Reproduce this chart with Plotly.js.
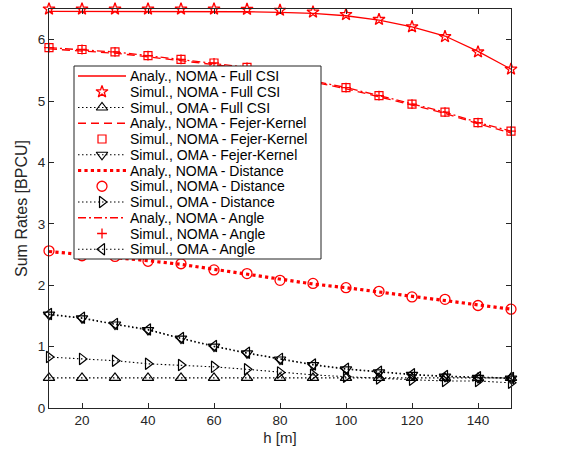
<!DOCTYPE html>
<html>
<head>
<meta charset="utf-8">
<script src="https://cdn.plot.ly/plotly-3.0.1.min.js"></script>
<style>html,body{margin:0;padding:0;background:#fff}#chart{width:572px;height:459px}</style>
</head>
<body>
<div id="chart"></div>
<script>
// ---- data ----
const h = [10,20,30,40,50,60,70,80,90,100,110,120,130,140,150];
const noma_full_analy = [6.46,6.46,6.46,6.46,6.46,6.46,6.455,6.445,6.43,6.39,6.32,6.21,6.06,5.81,5.52];
const noma_full_simul = [6.50,6.50,6.50,6.50,6.50,6.50,6.495,6.48,6.45,6.41,6.33,6.21,6.05,5.80,5.52];
const oma_full = [0.49,0.49,0.49,0.49,0.49,0.49,0.49,0.49,0.49,0.49,0.49,0.49,0.49,0.49,0.49];
const noma_fejer_analy = [5.85,5.82,5.78,5.72,5.66,5.60,5.53,5.42,5.31,5.20,5.07,4.93,4.80,4.63,4.48];
const noma_fejer_simul = [5.87,5.84,5.80,5.74,5.68,5.62,5.55,5.44,5.33,5.22,5.09,4.95,4.82,4.65,4.51];
const oma_fejer = [1.52,1.46,1.36,1.27,1.13,1.00,0.89,0.79,0.70,0.63,0.58,0.54,0.51,0.49,0.48];
const noma_dist_analy = [2.55,2.50,2.46,2.40,2.34,2.26,2.18,2.09,2.02,1.96,1.89,1.82,1.76,1.68,1.61];
const noma_dist_simul = [2.56,2.48,2.47,2.39,2.35,2.25,2.19,2.08,2.03,1.96,1.90,1.81,1.77,1.67,1.61];
const oma_dist = [0.83,0.80,0.77,0.72,0.70,0.67,0.63,0.58,0.54,0.51,0.48,0.46,0.44,0.44,0.41];
const noma_angle_analy = [5.87,5.84,5.80,5.74,5.68,5.62,5.55,5.44,5.33,5.22,5.09,4.95,4.82,4.65,4.51];
const noma_angle_simul = [5.87,5.84,5.80,5.74,5.68,5.62,5.55,5.44,5.33,5.22,5.09,4.95,4.82,4.65,4.51];
const oma_angle = [1.53,1.47,1.37,1.28,1.14,1.01,0.90,0.80,0.71,0.64,0.59,0.55,0.52,0.50,0.49];
const names = [
 'Analy., NOMA - Full CSI','Simul., NOMA - Full CSI','Simul., OMA - Full CSI',
 'Analy., NOMA - Fejer-Kernel','Simul., NOMA - Fejer-Kernel','Simul., OMA - Fejer-Kernel',
 'Analy., NOMA - Distance','Simul., NOMA - Distance','Simul., OMA - Distance',
 'Analy., NOMA - Angle','Simul., NOMA - Angle','Simul., OMA - Angle'];
const xTicks = [20,40,60,80,100,120,140];
const yTicks = [0,1,2,3,4,5,6];

// ---- styles ----
const red = '#ff0000', blk = '#000000';
const omaDash = '1.5px,2.5px';
const styles = [
  {line:{color:red, width:1.3, dash:'solid'}},
  {marker:{symbol:'star-open', size:9, color:red, line:{width:1.3}}},
  {line:{color:blk, width:1.1, dash:omaDash}, marker:{symbol:'triangle-up-open', size:10, color:blk, line:{width:1.2}}},
  {line:{color:red, width:1.3, dash:'8px,5px'}},
  {marker:{symbol:'square-open', size:8, color:red, line:{width:1.2}}},
  {line:{color:blk, width:1.1, dash:omaDash}, marker:{symbol:'triangle-down-open', size:10, color:blk, line:{width:1.2}}},
  {line:{color:red, width:3.2, dash:'dot'}},
  {marker:{symbol:'circle-open', size:10, color:red, line:{width:1.3}}},
  {line:{color:blk, width:1.1, dash:omaDash}, marker:{symbol:'triangle-right-open', size:10, color:blk, line:{width:1.2}}},
  {line:{color:red, width:1.3, dash:'8px,3px,2px,3px'}},
  {marker:{symbol:'cross-thin-open', size:7, color:red, line:{width:1.3}}},
  {line:{color:blk, width:1.1, dash:omaDash}, marker:{symbol:'triangle-left-open', size:10, color:blk, line:{width:1.2}}}
];
const series = [noma_full_analy, noma_full_simul, oma_full, noma_fejer_analy, noma_fejer_simul, oma_fejer,
  noma_dist_analy, noma_dist_simul, oma_dist, noma_angle_analy, noma_angle_simul, oma_angle];

function modeOf(s){ return s.line && s.marker ? 'lines+markers' : (s.line ? 'lines' : 'markers'); }

const traces = series.map((y, i) => Object.assign({
  x: h, y: y, name: names[i], type: 'scatter', mode: modeOf(styles[i]),
  showlegend: false, cliponaxis: false, xaxis: 'x', yaxis: 'y'
}, styles[i]));

// ---- custom legend drawn on an overlay axis measured in pixels ----
const L = 49, R = 61, T = 9, B = 51, W = 572, H = 459;
const box = {x0: 74, x1: 321, y0: 66, y1: 259};
const rowTop = 76, rowStep = 15.75, sampleX0 = 78, sampleX1 = 126, textX = 128;
traces.push({x:[box.x0, box.x1, box.x1, box.x0, box.x0], y:[box.y0, box.y0, box.y1, box.y1, box.y0],
  type:'scatter', mode:'lines', fill:'toself', fillcolor:'#ffffff',
  line:{color:'#222', width:1}, showlegend:false, xaxis:'x2', yaxis:'y2', hoverinfo:'skip'});
const annotations = [];
styles.forEach((s, i) => {
  const ry = rowTop + rowStep * i;
  if (s.line) traces.push({x:[sampleX0, sampleX1], y:[ry, ry], type:'scatter', mode:'lines',
    line:s.line, showlegend:false, xaxis:'x2', yaxis:'y2', hoverinfo:'skip'});
  if (s.marker) traces.push({x:[(sampleX0 + sampleX1) / 2], y:[ry], type:'scatter', mode:'markers',
    marker:s.marker, showlegend:false, xaxis:'x2', yaxis:'y2', hoverinfo:'skip', cliponaxis:false});
  annotations.push({x:textX, y:ry, xref:'x2', yref:'y2', text:names[i], showarrow:false,
    xanchor:'left', yanchor:'middle', font:{size:14, color:'#000'}});
});

const axColor = '#262626';
const layout = {
  width:W, height:H,
  margin:{l:L, r:R, t:T, b:B},
  paper_bgcolor:'#fff', plot_bgcolor:'#fff',
  font:{family:'Liberation Sans, Arial, sans-serif', color:axColor, size:13.5},
  showlegend:false,
  annotations: annotations,
  xaxis:{range:[10,150], tickvals:xTicks, ticktext:xTicks.map(String),
    ticks:'inside', ticklen:5, tickcolor:axColor, showline:true, linecolor:axColor, linewidth:1,
    mirror:'ticks', showgrid:false, zeroline:false,
    title:{text:'h [m]', font:{size:15}, standoff:5}},
  yaxis:{range:[0,6.5], tickvals:yTicks, ticktext:yTicks.map(String),
    ticks:'inside', ticklen:5, tickcolor:axColor, showline:true, linecolor:axColor, linewidth:1,
    mirror:'ticks', showgrid:false, zeroline:false,
    title:{text:'Sum Rates [BPCU]', font:{size:16}, standoff:6}},
  xaxis2:{overlaying:'x', range:[L, W - R], visible:false, fixedrange:true},
  yaxis2:{overlaying:'y', range:[H - B, T], visible:false, fixedrange:true}
};
Plotly.newPlot('chart', traces, layout, {displayModeBar:false, staticPlot:true});
</script>
</body>
</html>
